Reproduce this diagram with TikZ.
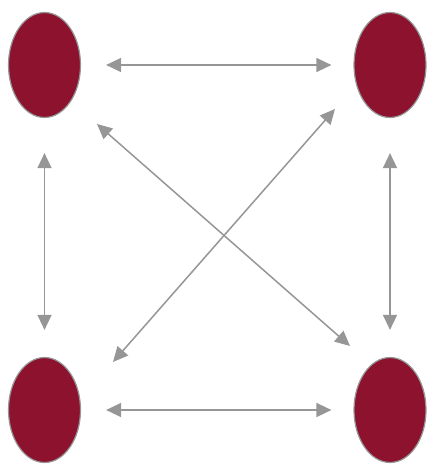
\documentclass[tikz,border=0pt]{standalone}
\usetikzlibrary{arrows.meta,shapes.geometric}
\definecolor{wine}{RGB}{140,18,46}
\definecolor{linkgray}{RGB}{150,150,150}
\begin{document}
\begin{tikzpicture}[x=1pt,y=-1pt,
  blob/.style={ellipse,draw=linkgray,line width=1.2pt,fill=wine,
    minimum width=72pt,minimum height=105pt,inner sep=0pt},
  link/.style={linkgray,line width=1.5pt,
    {Triangle[length=15pt,width=14pt]}-{Triangle[length=15pt,width=14pt]}}]
\useasboundingbox (0,0) rectangle (430,465);
\node[blob] (tl) at (44.5,65) {};
\node[blob] (tr) at (390,65) {};
\node[blob] (bl) at (44.5,410) {};
\node[blob] (br) at (390,410) {};
% diagonal end points
\coordinate (d1a) at (97,124);
\coordinate (d1b) at (350,346);
\coordinate (d2a) at (335,109);
\coordinate (d2b) at (113,362);
% sides
\draw[link,shorten <=25pt,shorten >=22pt] (tl) -- (tr);
\draw[link,shorten <=25pt,shorten >=22pt] (bl) -- (br);
\draw[link,shorten <=35pt,shorten >=27pt] (tl) -- (bl);
\draw[link,shorten <=35pt,shorten >=27pt] (tr) -- (br);
% diagonals
\draw[link] (d1a) -- (d1b);
\draw[link] (d2a) -- (d2b);
\end{tikzpicture}
\end{document}
